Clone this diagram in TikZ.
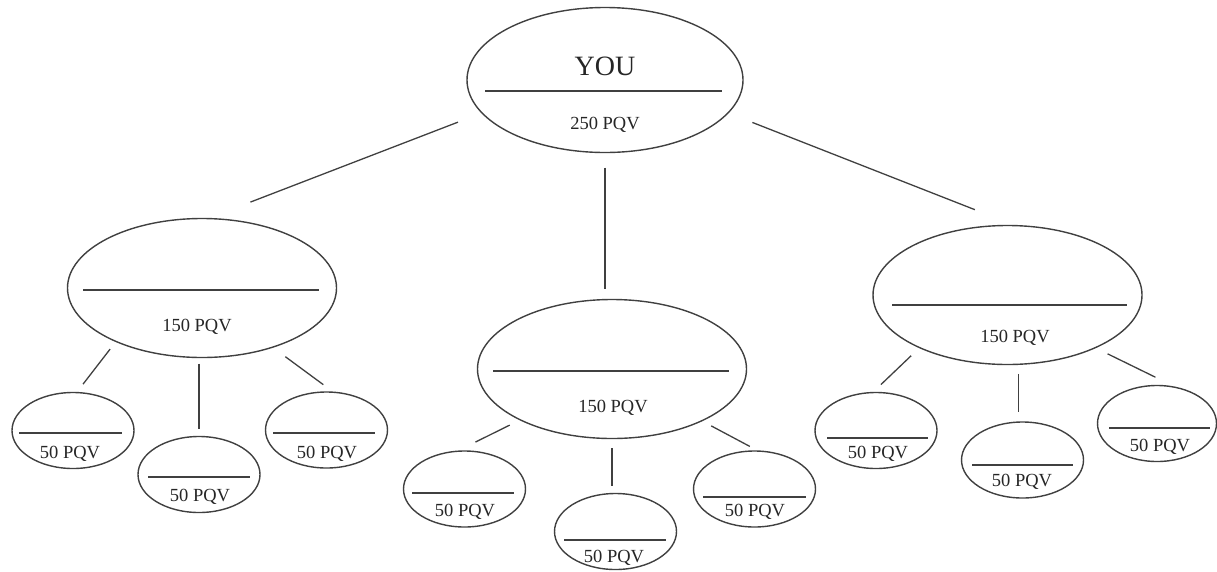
\documentclass[tikz,border=0pt]{standalone}
\usepackage{fontspec}
\setmainfont{Liberation Serif}
\usetikzlibrary{shapes.geometric}

\begin{document}
\begin{tikzpicture}[x=1pt, y=-1pt,
		color=black!75, line width=1.4pt,
		top/.style={draw, ellipse, inner sep=0pt, minimum width=276pt, minimum height=145pt},
		mid/.style={draw, ellipse, inner sep=0pt, minimum width=269pt, minimum height=139pt},
		leaf/.style={draw, ellipse, inner sep=0pt, minimum width=122pt, minimum height=76pt},
		lbl/.style={inner sep=0pt, text=black!85, text height=12pt, text depth=0pt, font=\fontsize{18.5}{20}\selectfont},
		conn/.style={line width=1.3pt}
		]
		\useasboundingbox (0,0) rectangle (1217,571);
		
		% ==========================================
		% TOP: YOU
		% ==========================================
		\node[top] (you) at (605,80) {};
		\node[lbl, text height=18.5pt, font=\fontsize{28}{30}\selectfont] (you-name) at (605,66) {YOU};
		\draw (485,91) -- (722,91);
		\node[lbl] (you-pqv) at (605,123) {250 PQV};
		
		% ==========================================
		% ROW 2: three 150 PQV
		% ==========================================
		\node[mid] (lm) at (202,288) {};
		\draw (83,290) -- (319,290);
		\node[lbl] (lm-pqv) at (197,325) {150 PQV};
		
		\node[mid] (cm) at (612,369) {};
		\draw (493,371) -- (729,371);
		\node[lbl] (cm-pqv) at (613,406) {150 PQV};
		
		\node[mid] (rm) at (1007.5,295) {};
		\draw (892,305) -- (1127,305);
		\node[lbl] (rm-pqv) at (1015,336) {150 PQV};
		
		% -- connectors from YOU --
		\draw[conn, shorten <=25pt, shorten >=44pt] (you.195.7) -- (lm.84.3);
		\draw[conn, shorten <=14.5pt, shorten >=10pt] (you.south) -- (you.south |- cm.north);
		\draw[conn, shorten <=25.5pt, shorten >=41.6pt] (you.-15.5) -- (rm.85.3);
		
		% ==========================================
		% ROW 3: 50 PQV leaves
		% ==========================================
		% -- under left --
		\node[leaf] (l1) at (73,430.5) {};
		\draw (19,433) -- (122,433);
		\node[lbl] (l1-pqv) at (70,452) {50 PQV};
		
		\node[leaf] (l2) at (199,474.5) {};
		\draw (148,477) -- (250,477);
		\node[lbl] (l2-pqv) at (200,495) {50 PQV};
		
		\node[leaf] (l3) at (326.5,430) {};
		\draw (273,433) -- (375,433);
		\node[lbl] (l3-pqv) at (327,452) {50 PQV};
		
		\draw[conn, shorten <=9pt, shorten >=9.8pt] (lm.212.7) -- (l1.84.5);
		\draw[conn, shorten <=5.5pt, shorten >=7pt] (l2.north |- lm.south) -- (l2.north);
		\draw[conn, shorten <=15.2pt, shorten >=11.5pt] (lm.320.9) -- (l3.81);
		
		% -- under center --
		\node[leaf] (c1) at (464.5,489) {};
		\draw (412,493) -- (514,493);
		\node[lbl] (c1-pqv) at (465,510) {50 PQV};
		
		\node[leaf] (c2) at (615.5,531.5) {};
		\draw (564,540) -- (666,540);
		\node[lbl] (c2-pqv) at (614,556) {50 PQV};
		
		\node[leaf] (c3) at (754.5,489) {};
		\draw (703,497) -- (806,497);
		\node[lbl] (c3-pqv) at (755,510) {50 PQV};
		
		\draw[conn, shorten <=11pt, shorten >=19pt] (cm.209.6) -- (c1.99.9);
		\draw[conn, shorten <=9pt, shorten >=7pt] (cm.south) -- (cm.south |- c2.north);
		\draw[conn, shorten <=10pt, shorten >=8.3pt] (cm.330.5) -- (c3.86);
		
		% -- under right --
		\node[leaf] (r1) at (876,430.5) {};
		\draw (827,438) -- (928,438);
		\node[lbl] (r1-pqv) at (878,452) {50 PQV};
		
		\node[leaf] (r2) at (1022.5,460) {};
		\draw (972,465) -- (1073,465);
		\node[lbl] (r2-pqv) at (1022,480) {50 PQV};
		
		\node[leaf, minimum width=119pt] (r3) at (1157,423.5) {};
		\draw (1109,428) -- (1210,428);
		\node[lbl] (r3-pqv) at (1160,445) {50 PQV};
		
		\draw[conn, shorten <=11pt, shorten >=10.5pt] (rm.211.8) -- (r1.94.2);
		\draw[conn, shorten <=9pt, shorten >=9pt] (rm.-81.4) -- (rm.-81.4 |- r2.north);
		\draw[conn, shorten <=13pt, shorten >=21pt] (rm.329.9) -- (r3.65);
		
\end{tikzpicture}
\end{document}
